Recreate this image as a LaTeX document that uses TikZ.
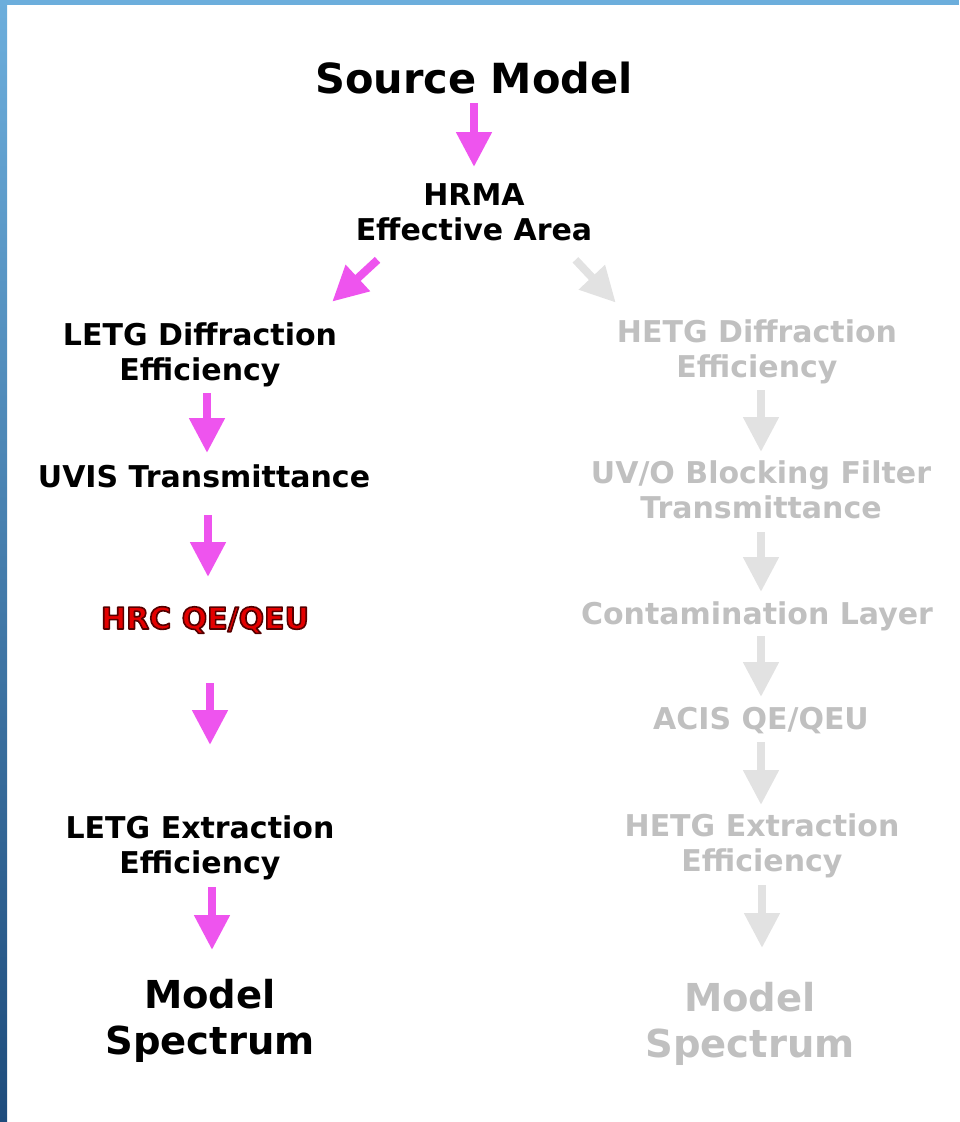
\documentclass[tikz,border=0pt]{standalone}
\usepackage{fontspec}
\setmainfont{DejaVu Sans}
\usetikzlibrary{arrows.meta}

\definecolor{flowpink}{RGB}{238,84,238}
\definecolor{fadetext}{RGB}{192,192,192}
\definecolor{fadearrow}{RGB}{226,226,226}
\definecolor{hrcred}{RGB}{228,0,0}
\definecolor{frametop}{RGB}{108,174,220}
\definecolor{framebot}{RGB}{30,76,124}

% red text with a dark outline
\newcommand{\hrcglow}[1]{{\color{hrcred}%
  \special{pdf:literal direct 0.33 0 0 RG 1.6 w 1 j 2 Tr}#1\special{pdf:literal direct 0 Tr}}}

\begin{document}
\begin{tikzpicture}[x=1pt,y=-1pt]
		\tikzstyle{every node}+=[inner sep=0pt, align=center, font=\bfseries\fontsize{30}{35}\selectfont]
		\tikzstyle{bigtext}=[font=\bfseries\fontsize{38.5}{46}\selectfont]
		\tikzstyle{flow}=[line width=8pt, flowpink, -{Triangle[length=35pt,width=34pt]}]
		\tikzstyle{fadeflow}=[flow, fadearrow]
		\useasboundingbox (0,0) rectangle (959,1122);
		% frame
		\shade [top color=frametop, bottom color=framebot] (0,0) rectangle (7,1122);
		\fill [frametop] (0,0) rectangle (959,5);
		% LETG path
		\node [font=\bfseries\fontsize{41.5}{48}\selectfont] (src) at (474,78) {Source Model};
		\node (hrma) at (474,212) {HRMA\\Effective Area};
		\node (letgd) at (200,355) {LETG Diffraction\\Efficiency};
		\node (uvis) at (204,476) {UVIS Transmittance};
		\node (hrc) at (205,620) {\hrcglow{HRC QE/QEU}};
		\node (letgx) at (200,848) {LETG Extraction\\Efficiency};
		\node [bigtext] (model) at (210,1021) {Model\\Spectrum};
		% HETG path
		\node [fadetext] (hetgd) at (757,352) {HETG Diffraction\\Efficiency};
		\node [fadetext] (uvo) at (761,490) {UV/O Blocking Filter\\Transmittance};
		\node [fadetext] (cont) at (757,616) {Contamination Layer};
		\node [fadetext] (acis) at (761,721) {ACIS QE/QEU};
		\node [fadetext] (hetgx) at (762,846) {HETG Extraction\\Efficiency};
		\node [bigtext, fadetext] (gmodel) at (750,1024) {Model\\Spectrum};
		% arrows
		\draw [flow, shorten <=25pt, shorten >=45pt] (src.center) -- (src |- hrma.center);
		\draw [flow] ([shift={(22,19)}]hrma.south west) -- ([shift={(-5,-21)}]letgd.north east);
		\draw [fadeflow] ([shift={(-17,19)}]hrma.south east) -- ([shift={(-1,-17)}]hetgd.north west);
		\draw [flow, shorten <=38pt, shorten >=23pt] ([xshift=3pt]uvis.center |- letgd.center) -- ([xshift=3pt]uvis.center);
		\draw [flow, shorten <=39pt, shorten >=43pt] ([xshift=3pt]hrc.center |- uvis.center) -- ([xshift=3pt]hrc.center);
		\draw [flow, shorten <=63pt, shorten >=103pt] ([xshift=5pt]hrc.center) -- ([xshift=5pt]hrc.center |- letgx.center);
		\draw [flow, shorten <=39pt, shorten >=71pt] ([xshift=2pt]model.center |- letgx.center) -- ([xshift=2pt]model.center);
		\draw [fadeflow, shorten <=38pt, shorten >=38pt] (uvo |- hetgd.center) -- (uvo.center);
		\draw [fadeflow, shorten <=42pt, shorten >=24pt] (uvo.center) -- (uvo |- cont.center);
		\draw [fadeflow, shorten <=20pt, shorten >=24pt] (acis |- cont.center) -- (acis.center);
		\draw [fadeflow, shorten <=21pt, shorten >=41pt] (acis.center) -- (acis |- hetgx.center);
		\draw [fadeflow, shorten <=39pt, shorten >=76pt] (hetgx.center) -- (hetgx |- gmodel.center);
\end{tikzpicture}
\end{document}
